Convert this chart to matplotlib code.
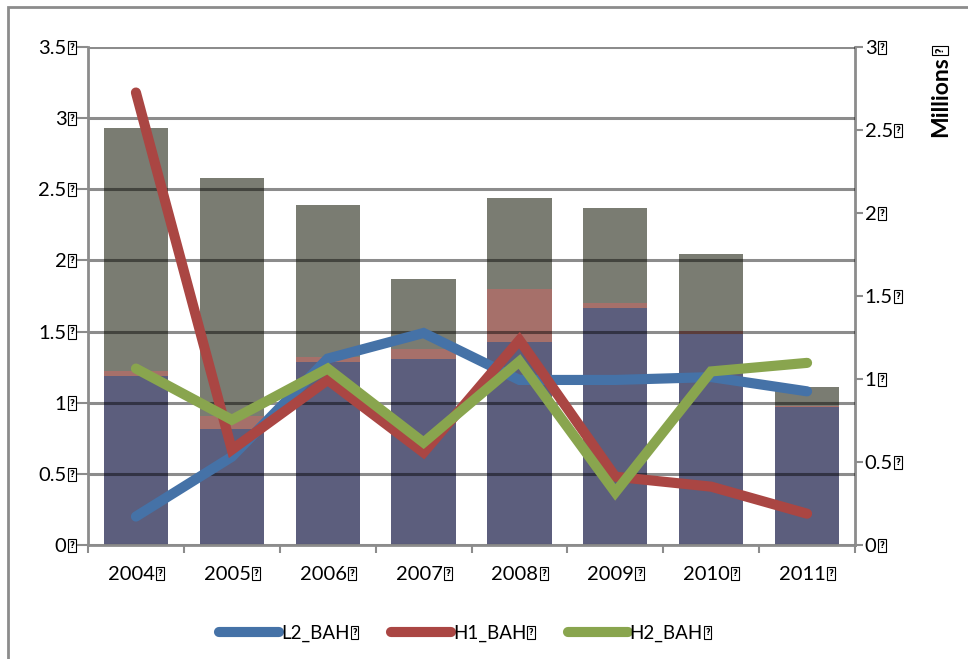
import matplotlib
matplotlib.use("Agg")
import matplotlib.pyplot as plt
import matplotlib.transforms as mtransforms
from matplotlib.lines import Line2D
from matplotlib.patches import Rectangle
import numpy as np

# ---- data ----
years = ["2004", "2005", "2006", "2007", "2008", "2009", "2010", "2011"]

# stacked bars, right axis (millions)
bar_blue = [1.02, 0.70, 1.10, 1.12, 1.22, 1.43, 1.27, 0.83]
bar_red = [0.03, 0.08, 0.03, 0.06, 0.32, 0.03, 0.02, 0.01]
bar_gray = [1.46, 1.43, 0.92, 0.42, 0.55, 0.57, 0.46, 0.11]

# lines, left axis
l2_bah = [0.20, 0.62, 1.31, 1.49, 1.16, 1.16, 1.18, 1.08]
h1_bah = [3.18, 0.67, 1.16, 0.65, 1.44, 0.48, 0.41, 0.22]
h2_bah = [1.24, 0.88, 1.24, 0.72, 1.29, 0.37, 1.22, 1.28]

left_ticks = [0, 0.5, 1, 1.5, 2, 2.5, 3, 3.5]
right_ticks = [0, 0.5, 1, 1.5, 2, 2.5, 3]
series_names = ["L2_BAH", "H1_BAH", "H2_BAH"]

FS = 14.5
plt.rcParams["font.family"] = ["Lato", "DejaVu Sans"]

axis_col = "#8c8c8c"
c_blue, c_red, c_green = "#4572a7", "#aa4643", "#89a54e"

fig = plt.figure(figsize=(9.68, 6.59), dpi=100)
ax = fig.add_axes([88 / 968, 1 - 545 / 659, 767 / 968, 498 / 659])
ax2 = ax.twinx()
ax.set_zorder(ax2.get_zorder() + 1)
ax.patch.set_visible(False)

x = np.arange(len(years))
w = 0.67
b1 = np.array(bar_blue)
b2 = b1 + np.array(bar_red)
ax2.bar(x, bar_blue, w, color="#5c5e7d", zorder=1)
ax2.bar(x, bar_red, w, bottom=b1, color="#a6706a", zorder=1)
ax2.bar(x, bar_gray, w, bottom=b2, color="#7a7c72", zorder=1)
ax2.set_ylim(0, 3)
ax2.set_yticks(right_ticks)
ax2.set_yticklabels([f"{t:g}" for t in right_ticks], fontsize=FS)

lw = 7.3
for vals, col in ((l2_bah, c_blue), (h1_bah, c_red), (h2_bah, c_green)):
    ax.plot(x, vals, color=col, lw=lw, solid_capstyle="round",
            solid_joinstyle="miter", zorder=3)
ax.set_ylim(0, 3.5)
ax.set_xlim(-0.5, len(years) - 0.5)
ax.set_yticks(left_ticks)
ax.set_yticklabels([f"{t:g}" for t in left_ticks], fontsize=FS)
ax.set_axisbelow(True)
ax.grid(axis="y", color="black", alpha=0.45, lw=2.2)

# category boundaries as major ticks; labels on minor ticks, nudged left so
# that label plus trailing box stays centred under the bar
ax.set_xticks(np.arange(-0.5, len(years), 1.0))
ax.set_xticklabels([])
ax.set_xticks(x - 0.047, minor=True)
ax.set_xticklabels(years, minor=True, fontsize=FS)
ax.tick_params(axis="x", which="major", length=6, width=1.5, color=axis_col)
ax.tick_params(axis="x", which="minor", length=0, pad=15)
ax.tick_params(axis="y", length=8, width=1.5, color=axis_col, pad=7.5)
ax2.tick_params(axis="y", length=6, width=1.5, color=axis_col, pad=1)

for a in (ax, ax2):
    for s in a.spines.values():
        s.set_color(axis_col)
        s.set_linewidth(2)
    a.spines["top"].set_visible(False)
ax.spines["right"].set_visible(False)
ax2.spines["left"].set_visible(False)
ax2.spines["bottom"].set_visible(False)

millions = fig.text(941 / 968, 1 - 97 / 659, "Millions", rotation=90, ha="center",
                    va="center", fontsize=16.5, fontweight="bold")

handles = [Line2D([], [], color=c, lw=lw, solid_capstyle="round") for c in (c_blue, c_red, c_green)]
leg = fig.legend(handles, series_names, loc="center",
                 bbox_to_anchor=(461 / 968, 1 - 633 / 659), ncol=3, frameon=False,
                 fontsize=13.5, handlelength=3.2, handletextpad=0.1, columnspacing=2.2)

# outer chart frame
fig.add_artist(Rectangle((8 / 968, -0.2), 2.0, 1.2 - 7 / 659, transform=fig.transFigure,
                         fill=False, edgecolor=axis_col, lw=2, clip_on=False))

# small "?" boxes that close every label
fig.canvas.draw()
renderer = fig.canvas.get_renderer()
ident = mtransforms.IdentityTransform()


def add_box(t, rotated=False):
    bb = t.get_window_extent(renderer)
    em = t.get_fontsize() * fig.dpi / 72
    _, _, d = renderer.get_text_width_height_descent("lp", t.get_fontproperties(), ismath=False)
    bw, bh = 0.40 * em, 0.66 * em
    gap = 0.06 * em
    if not rotated:
        x0 = bb.x1 + gap
        y0 = bb.y0 + d
        rect = (x0, y0)
        size = (bw, bh)
        cx, cy = x0 + bw / 2, y0 + bh / 2
        rot = 0
    else:
        base = bb.x1 - d
        y0 = bb.y1 + gap
        rect = (base - bh, y0)
        size = (bh, bw)
        cx, cy = base - bh / 2, y0 + bw / 2
        rot = 90
    fig.add_artist(Rectangle(rect, size[0], size[1], transform=ident, fill=False,
                             edgecolor="black", lw=0.8))
    fig.text(cx, cy, "?", transform=ident, ha="center", va="center", rotation=rot,
             fontsize=t.get_fontsize() * 0.42, fontweight="bold", family="DejaVu Sans")


labels = (list(ax.get_yticklabels()) + list(ax2.get_yticklabels())
          + list(ax.get_xticklabels(minor=True)) + list(leg.get_texts()))
for t in labels:
    if t.get_visible() and t.get_text():
        add_box(t)
add_box(millions, rotated=True)

fig.savefig("out.png", dpi=100)
